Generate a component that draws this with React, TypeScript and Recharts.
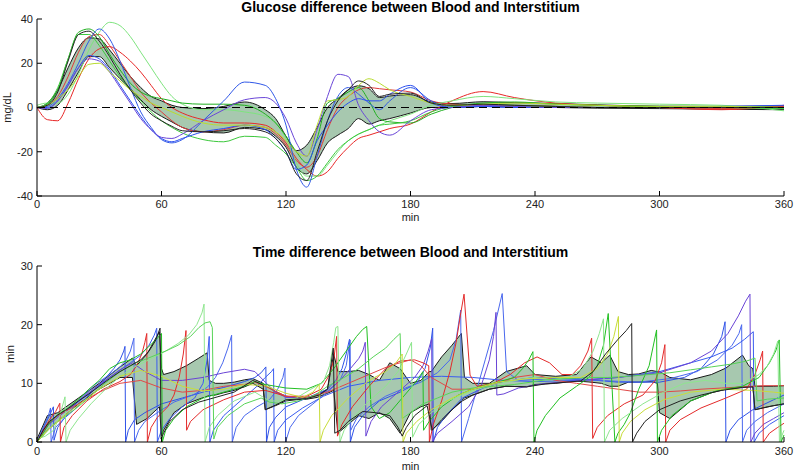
import { Area, ComposedChart, Line, ReferenceLine, XAxis, YAxis } from "recharts";

// shared axis ticks
const minutes = [0, 60, 120, 180, 240, 300, 360];
const glucoseTicks = [-40, -20, 0, 20, 40];
const delayTicks = [0, 10, 20, 30];

// ---- top panel: glucose difference (mg/dL) ----
const glucoseTime = [
	0, 5, 10, 15, 20, 25, 30, 35, 40, 45,
	50, 55, 60, 65, 70, 80, 90, 100, 110, 115,
	120, 125, 130, 135, 140, 145, 150, 155, 160, 165,
	170, 180, 190, 200, 215, 230, 250, 270, 300, 330,
	360,
];
const glucoseBandHigh = [
	0, 2, 8, 18, 27, 31.5, 31, 26, 20, 14,
	9, 5, 3, 1, 0, -0.5, 0.5, 2.5, -1, -5,
	-13, -19.5, -17, -9, 0, 4, 8, 9.8, 8.5, 4.5,
	5.2, 5.8, 2.5, 1.8, 2.6, 2.2, 1.8, 1.2, 0.6, 0.5,
	0.8,
];
const glucoseBandLow = [
	0, -1, 1, 8, 16, 23, 23, 18, 13, 8.5,
	3.5, -1, -4, -6.5, -9, -11, -11.5, -9, -10, -13,
	-18, -27, -30, -24, -16, -12.5, -9.5, -5, -7.5, -6,
	-5, -2.5, 0, 0, 0.5, 0.2, 0, -0.3, -0.5, -0.8,
	-1,
];
const gRedA = [
	0, -5.5, -6, 2, 13, 22, 26.5, 27.5, 25, 21,
	16, 10, 4, 0, -2.5, -5.5, -7, -7, -8, -11,
	-16, -23, -28, -31, -29, -23, -18, -14, -12.5, -11,
	-9.5, -7.5, -2, 3, 7.2, 4.5, 2, 1, 0, -1,
	1,
];
const gRedB = [
	0, 1, 5, 14, 25, 32, 33, 28, 21, 14,
	7, 2, -2, -6, -9, -11, -10, -8, -9, -12,
	-17, -24, -27, -22, -10, 0, 5, 8, 9, 8.5,
	8, 7, 3, 1.5, 1, 1, 0.5, 0, 0, -0.5,
	0.5,
];
const gGreenLight = [
	1, 2, 2, 6, 15, 26, 34, 38.5, 37, 32,
	25, 18, 11, 5, 1.5, -1, -1, -2, -4, -7,
	-14, -25, -31, -31, -26, -20, -15, -12, -10, -8,
	-6, -3, 1, 3, 5, 4, 2.5, 2, 1.5, 1,
	-1.5,
];
const gGreenDark = [
	0, 1.5, 8, 22, 34, 35.5, 32, 24, 17, 11,
	7, 5, 4, 3, 2, 1.5, 1.5, 1, -3, -7,
	-13, -20, -25, -14, 2, 4, 7, 9, 3, -5,
	-6.5, -7, -3, 0, 2, 2.5, 1.5, 1, 0.5, 0.5,
	0,
];
const gGreenLow = [
	0, 2, 9, 22, 33, 33, 28, 21, 14, 8,
	3, -2, -6, -9, -11.5, -14.5, -15.5, -13, -13.5, -17,
	-21, -27, -33, -31, -25, -19, -15, -12, -10, -8,
	-7.5, -6, -2, 0.5, 1.5, 1, 0.5, 0, 0.5, 0,
	-0.5,
];
const gBlueA = [
	0, 0.5, 4, 11, 20, 30, 35.5, 31, 21, 9,
	-2, -9, -14.5, -16, -14.5, -6, 3, 11.5, 10, 4,
	-8, -28, -36, -22, -6, 5, 9, 6, 2, -1,
	3, 9, 3, 0, 0.5, 0, 0, 0, 0, 0,
	0,
];
const gBlueB = [
	0, 0, 3, 10, 18, 23.5, 22, 17, 10, 3,
	-4, -10, -14, -15.5, -14, -11, -9.5, -8, -10, -14,
	-20, -28, -26, -15, -8, -2, 2, 4, 3, 3,
	6, 10, 2, 0, 0.5, 0, 0, 0, 0, 0.5,
	1,
];
const gPurple = [
	0, -0.5, 3, 10, 18, 22, 21, 16, 9, 2,
	-5, -10, -13.5, -14, -12, -6, -1, 3.5, 4.5, 2,
	-5, -16, -22, -10, 5, 15, 14, 1, -6, -11,
	-12.5, -6, -1, 0, 1, 0.5, 0, 0, 0, 0,
	0,
];
const gYellow = [
	0, 1, 4, 8, 14, 19.5, 20, 16, 12, 8,
	5, 2, 0, -2, -4, -7, -8, -8, -9, -11,
	-15, -20, -22, -8, 3, 3.5, 5, 10, 13, 11,
	8, 5, 2, 1, 1.5, 2, 1.5, 1, 0.5, 0.5,
	0,
];
const gBlack = [
	0, 1, 7, 21, 33, 34.5, 30, 23, 15, 8,
	2, -3, -6, -8.5, -10.5, -11, -10.5, -9.5, -11, -14,
	-20, -30, -33, -20, -6, 3, 8, 12, 10, 5,
	6, 6.5, 2, 1, 1.5, 1, 0.5, 0, 0, 0,
	0,
];

const glucoseSeries = [
	{ key: "redA", color: "#e82828", values: gRedA },
	{ key: "redB", color: "#e03a3a", values: gRedB },
	{ key: "greenLight", color: "#7ee47e", values: gGreenLight },
	{ key: "greenDark", color: "#1fb01f", values: gGreenDark },
	{ key: "greenLow", color: "#3cc83c", values: gGreenLow },
	{ key: "blueA", color: "#3058e8", values: gBlueA },
	{ key: "blueB", color: "#2a4ef0", values: gBlueB },
	{ key: "purple", color: "#6a46d8", values: gPurple },
	{ key: "yellow", color: "#b8dc30", values: gYellow },
	{ key: "black", color: "#222222", values: gBlack },
];

const glucoseData = glucoseTime.map((t, i) => {
	const row: Record<string, any> = { t, band: [glucoseBandLow[i], glucoseBandHigh[i]] };
	glucoseSeries.forEach((s) => {
		row[s.key] = s.values[i];
	});
	return row;
});

// ---- bottom panel: time difference (min), [t, value] pairs ----
const delayBlueA: [number, number][] = [
	[0, 0], [2, 1.5], [4, 3], [6, 4.5], [7.9, 6], [8.2, 0.3], [10, 2.5], [13, 4], [18, 5.5], [25, 8],
	[32, 10.5], [37, 12.5], [40, 14], [41.8, 15.5], [42.4, 16.3], [42.7, 0], [44, 2], [47, 3.8], [52, 5], [60, 6.5],
	[70, 7.5], [80, 8.5], [90, 9.3], [100, 10.3], [105, 11], [108, 11.8], [110.3, 12.8], [110.6, 0], [112, 2.5], [115, 4.2],
	[120, 6], [130, 7.5], [140, 9], [144, 10.5], [147, 12.5], [149, 15], [150.6, 17.5], [151, 0], [153, 2.5], [157, 4.5],
	[165, 7], [175, 8.5], [183, 10], [187, 12.5], [189.5, 16], [190.7, 19.4], [191, 0], [193, 2.5], [197, 4.5], [205, 7.5],
	[215, 9.2], [225, 10.3], [240, 11], [260, 10.8], [280, 10.2], [300, 10.2], [312, 11], [320, 12.5], [326, 15], [330, 18],
	[331.6, 20.5], [332, 0], [334, 2], [338, 3.8], [345, 5.5], [355, 7.2], [360, 8],
];
const delayBlueB: [number, number][] = [
	[0, 0], [3, 2.5], [5.5, 4.5], [6.5, 5.8], [6.8, 0], [9, 2.5], [13, 4], [20, 7], [28, 9.8], [35, 11.5],
	[40, 12.8], [43, 14], [45, 15.5], [46.7, 17.7], [47, 0], [49, 2], [52, 3.5], [58, 5], [66, 6.8], [75, 8],
	[82, 9.3], [86, 11], [89.5, 13.5], [92, 16], [93.8, 18.2], [94.1, 0], [96, 2.5], [100, 4.5], [106, 6], [112, 7.2],
	[116, 9], [118.5, 11], [119.5, 12.6], [119.8, 0], [122, 2.5], [126, 4.5], [133, 6.5], [140, 8.5], [146, 10.5], [149, 13],
	[150.9, 17.4], [151.2, 2], [154, 4], [160, 6], [168, 7.8], [176, 9], [185, 10.2], [193, 11.8], [199, 14], [202, 17.5],
	[204.2, 22.5], [204.6, 0], [208, 4], [212, 9], [216, 14], [220, 19], [224.2, 25.3], [226.3, 12], [232, 10.5], [250, 10.8],
	[270, 10.5], [290, 10.2], [305, 10.8], [318, 12], [328, 14], [335, 16.5], [338.3, 18.5], [339.6, 20], [340, 0], [342, 2],
	[346, 3.5], [352, 5], [360, 6.5],
];
const delayBlueC: [number, number][] = [
	[0, 0], [4, 2.5], [8, 4], [15, 5.5], [25, 8.2], [35, 11], [45, 13.5], [50, 14.8], [54, 16.5], [56.5, 18.2],
	[57.7, 19.4], [58, 0], [60, 2], [64, 4], [70, 6], [76, 7.5], [80, 10], [82, 14], [83, 18], [83.3, 0],
	[85, 2], [90, 4.5], [98, 7], [106, 9.5], [110, 11], [113, 12], [114, 12.5], [114.3, 0], [116, 2], [120, 3.8],
	[128, 5.8], [138, 7.8], [150, 9.5], [165, 10.5], [180, 11], [195, 11.2], [210, 11], [225, 10.5], [240, 10.3], [260, 10.5],
	[280, 11], [300, 12], [315, 13.5], [325, 14.5], [335, 16], [341, 17.5], [345.2, 18.8], [345.6, 0], [348, 1.5], [353, 3],
	[360, 4.5],
];
const delayPurple: [number, number][] = [
	[0, 0], [5, 2.8], [10, 4.2], [20, 7], [30, 9.8], [40, 12.3], [46, 13.5], [52, 12], [60, 10.5], [70, 10.5],
	[80, 11], [90, 11.8], [100, 12.4], [105, 12], [110, 10.2], [115, 8.5], [120, 7.6], [130, 7.5], [140, 8.7], [146, 10.5],
	[151, 12.5], [155, 14.2], [157, 15.5], [158.2, 17], [158.5, 1], [161, 3.5], [166, 6], [174, 8.5], [182, 11], [186, 13],
	[188.5, 15.5], [190.2, 17.6], [190.5, 0], [193, 1.5], [200, 3.5], [208, 6], [214, 9.5], [218, 14], [220, 18], [221.2, 22.1],
	[221.6, 8], [225, 8.2], [232, 9.2], [245, 10], [260, 10.4], [280, 11], [300, 11.8], [315, 13.5], [325, 15.5], [333, 18.5],
	[338, 21.5], [341.5, 24], [343.6, 25.2], [344, 0], [346, 1.5], [350, 3], [355, 4], [360, 5],
];
const delayRedA: [number, number][] = [
	[0, 0], [3, 2], [6, 3.8], [9, 5.2], [11, 6.6], [11.3, 0], [13, 2.5], [17, 4.5], [24, 7], [32, 9],
	[40, 10.3], [45, 11.5], [48, 13], [50.5, 15], [52, 17], [52.9, 18.5], [53.2, 0], [55, 2.5], [58, 4.2], [63, 6],
	[66, 8], [68.5, 11], [70.5, 15], [71.8, 19], [72.1, 2], [74, 3.5], [80, 5.5], [90, 7.2], [100, 8.5], [110, 8.8],
	[120, 7.8], [130, 7.8], [137, 9], [141, 11.5], [143, 14], [144.4, 18], [144.8, 1], [147, 3], [152, 6], [160, 9.5],
	[168, 12.5], [175, 13.8], [182, 14], [186, 13.5], [188.8, 13], [189.1, 0], [191, 3], [195, 7], [199, 12], [202, 17],
	[204, 21.5], [205.8, 25.2], [208.7, 11.4], [212, 9.5], [220, 10], [228, 11.5], [235, 13.5], [241, 14.5], [247, 13.5], [253, 11.5],
	[258, 11.5], [262, 13], [265.5, 15.5], [267.3, 17.7], [267.8, 0.6], [270, 2.5], [275, 4.5], [283, 6.5], [292, 8], [298, 10.5],
	[301, 13.5], [302.6, 16.6], [303, 0], [305, 2], [310, 3.8], [320, 5.8], [332, 7.5], [342, 9], [346, 11.5], [348.5, 14],
	[349.7, 15.5], [350, 0], [353, 1.5], [357, 2.5], [360, 3.2],
];
const delayRedB: [number, number][] = [
	[0, 0], [5, 3], [10, 4.5], [20, 6.5], [30, 8.5], [40, 10], [50, 10.5], [60, 9.2], [70, 8.5], [80, 8.8],
	[90, 9.5], [100, 9.8], [105, 10.2], [110, 9.5], [120, 7.8], [130, 7.6], [140, 8.5], [150, 10], [160, 11.5], [170, 13],
	[180, 14], [185, 13], [190, 11], [200, 9], [210, 9], [220, 9.8], [230, 11], [240, 11.5], [250, 10.5], [260, 10],
	[270, 9.5], [280, 9], [290, 8.5], [300, 8.5], [310, 8.7], [320, 9], [330, 9.2], [340, 9.4], [350, 9.6], [360, 9.6],
];
const delayGreenA: [number, number][] = [
	[0, 0], [3, 1.5], [6, 3.2], [10, 4.7], [15, 5.8], [20, 7.3], [25, 9], [30, 10.5], [35, 12.5], [40, 13.5],
	[45, 14], [50, 15], [54, 16.3], [57.5, 17.5], [60, 18.5], [60.4, 0], [62, 2], [66, 4], [72, 6], [80, 7.5],
	[90, 8.5], [100, 9.5], [105, 10.3], [110, 9.8], [115, 9.5], [120, 9.2], [130, 9], [137, 10], [143, 12.5], [149, 15.5],
	[154, 18], [157, 19.2], [158.9, 19.7], [161, 6], [165, 4], [170, 5], [176, 7.5], [182, 10], [186, 12], [186.3, 2],
	[189, 3.5], [195, 6], [203, 8], [212, 9.3], [222, 10.2], [230, 11], [234, 12.5], [237, 14], [239, 15.4], [239.5, 0],
	[241, 2], [245, 4.5], [252, 7.5], [260, 9.5], [266, 11], [270, 13], [273, 16.5], [275.3, 21.9], [278.5, 0], [280, 1.5],
	[283, 3], [286, 5], [290, 9], [295, 13], [298.6, 19.1], [299, 0], [301, 2], [306, 4.5], [315, 7], [328, 8.8],
	[340, 9.5], [348, 11], [353, 13.5], [356, 15.5], [357.7, 17.4], [358.6, 0], [360, 1.2],
];
const delayGreenB: [number, number][] = [
	[0, 0.5], [4, 1], [8, 2], [11, 4.5], [13.5, 7.7], [14, 0], [16, 2], [20, 4], [26, 6.5], [33, 9],
	[40, 11.2], [47, 12.8], [55, 14.2], [62, 15.5], [68, 16.8], [73, 18.2], [77, 20], [79.5, 22], [80.5, 23.5], [81, 0],
	[83, 2.5], [87, 4.5], [95, 7], [105, 8.5], [112, 7], [118, 7], [125, 7.5], [132, 9], [138, 10.2], [141, 13],
	[143, 17], [144, 19.5], [145, 19.7], [146, 0], [148, 2], [152, 4], [160, 7], [168, 9.5], [174, 12], [178, 15],
	[180.5, 17], [181, 0.8], [184, 3], [190, 5], [198, 7], [208, 8.5], [220, 9.8], [232, 10.6], [240, 11], [248, 10.6],
	[256, 11], [263, 12.5], [268, 15.5], [271, 18.5], [273, 21], [273.5, 0], [276, 2], [282, 4], [292, 6.5], [302, 8.5],
	[312, 10], [322, 10.5], [332, 10], [340, 10], [348, 11.5], [352, 13], [355, 15], [357, 17.2], [357.8, 0], [360, 2],
];
const delayGreenC: [number, number][] = [
	[0, 0], [4, 1.5], [8, 3], [12, 4], [18, 5.5], [25, 7.5], [32, 9.8], [40, 12], [48, 13.5], [55, 14.5],
	[62, 15.5], [68, 16.5], [74, 18], [78, 19.5], [81, 20.3], [83.4, 20.5], [84.5, 19.5], [85.2, 0.5], [87, 2.5], [92, 4.5],
	[100, 6.5], [108, 7.5], [112, 6.8], [118, 6.5], [126, 7], [134, 8], [140, 9.5], [148, 11], [155, 12.5], [162, 14.5],
	[168, 16], [172, 17.5], [175, 18.5], [176, 4], [180, 5], [186, 6.5], [193, 7.5], [200, 8.5], [210, 9.2], [220, 9.5],
	[230, 9.8], [238, 10.2], [245, 10.6], [255, 10.8], [265, 11], [275, 11], [285, 11.2], [295, 11.5], [305, 11.8], [315, 12.3],
	[325, 12.8], [335, 13.3], [342, 13.8], [346, 14.3], [347, 7], [352, 7.3], [360, 7.5],
];
const delayYellow: [number, number][] = [
	[0, 0], [5, 2], [10, 3.5], [15, 5], [20, 6.3], [30, 9], [40, 11.2], [50, 12.2], [60, 11.2], [70, 9.5],
	[80, 8.7], [90, 9], [100, 9.8], [110, 9.6], [120, 8.3], [128, 7.6], [133, 8.5], [136, 9.8], [136.4, 0], [138, 2],
	[142, 4.5], [150, 7.5], [160, 10.5], [168, 12], [173, 13.5], [176, 15], [176.4, 0], [178, 1.5], [183, 3.5], [190, 5.5],
	[200, 7.5], [210, 9], [222, 10.2], [236, 10.8], [250, 11], [262, 11], [270, 12.5], [275, 15], [278, 18], [280.2, 21.4],
	[280.6, 0], [282, 1.5], [286, 3.5], [293, 5.5], [302, 7.2], [315, 8.5], [330, 9], [345, 8.8], [355, 8.5], [360, 8.3],
];
const delayBlack: [number, number][] = [
	[0, 0], [3, 2], [6, 3.5], [10, 4.6], [15, 5.7], [20, 7], [25, 8.2], [30, 9.5], [35, 10.8], [40, 12],
	[45, 13], [50, 14], [54, 15.5], [57, 17.2], [59.3, 19.4], [59.8, 0.5], [61, 1.5], [64, 3.5], [70, 5.5], [78, 6.8],
	[85, 7.5], [95, 8.5], [104, 10.5], [109, 9.7], [110, 5.5], [115, 6.3], [120, 7.2], [130, 7.4], [136, 8], [140, 9],
	[142.8, 16], [143.5, 1.5], [146, 2], [150, 3.5], [157, 5.2], [163, 5], [170, 4.5], [174, 2.5], [176, 1], [178, 2.5],
	[182, 4.5], [188, 6.2], [190.5, 2], [195, 3.8], [200, 5.5], [205, 7], [210, 8], [218, 9], [226, 9.5], [236, 9.4],
	[245, 9.9], [255, 10.2], [262, 10.4], [268, 12], [274, 15], [280, 17.5], [284, 19], [286.6, 20.2], [287, 0], [289, 1.5],
	[293, 3.5], [300, 5.5], [310, 7], [320, 8], [330, 8.8], [340, 9.3], [345, 9.4], [346, 5.5], [352, 6], [360, 6.5],
];

const delaySeries = [
	{ name: "blueA", color: "#2f52e8", points: delayBlueA },
	{ name: "blueB", color: "#4a68ee", points: delayBlueB },
	{ name: "blueC", color: "#3a5cf0", points: delayBlueC },
	{ name: "purple", color: "#6a44d6", points: delayPurple },
	{ name: "redA", color: "#e42a2a", points: delayRedA },
	{ name: "redB", color: "#e04848", points: delayRedB },
	{ name: "greenA", color: "#22c022", points: delayGreenA },
	{ name: "greenB", color: "#8ee68e", points: delayGreenB },
	{ name: "greenC", color: "#58d458", points: delayGreenC },
	{ name: "yellow", color: "#c8dd3a", points: delayYellow },
	{ name: "black", color: "#222222", points: delayBlack },
];

const delayBandTime = [
	0, 5, 10, 20, 30, 40, 46, 48, 53, 59,
	60, 61, 66, 72, 78, 82, 83, 86, 90, 95,
	100, 104, 109, 110, 115, 120, 125, 130, 135, 140,
	143, 145, 150, 155, 160, 165, 170, 175, 180, 185,
	189, 190, 195, 200, 204.5, 206, 210, 218, 226, 236,
	240, 250, 260, 267, 272, 276, 280, 285, 290, 296,
	299, 300, 305, 315, 325, 332, 340, 343, 345, 346,
	350, 355, 360,
];
const delayBandHigh = [
	0.5, 4.5, 5, 7.5, 10, 12.8, 14.3, 13, 15, 18.8,
	12.5, 11.5, 12, 13, 14.3, 15.2, 10.5, 10, 10, 10.2,
	10.6, 10.8, 10, 9.6, 8.6, 7.8, 7.6, 7.6, 8, 9,
	15, 12, 12, 12.2, 11.5, 10.5, 13.5, 12.5, 10, 10.5,
	12, 12, 14.5, 16.5, 18.5, 11, 10, 10, 12, 13,
	11.5, 11.2, 11.5, 14.5, 13.5, 14.8, 12, 11.5, 11.6, 12.2,
	12, 12, 11, 10.6, 11.5, 12.6, 14.8, 13, 12.5, 9.5,
	9.5, 9.5, 9.6,
];
const delayBandLow = [
	0, 2, 3.5, 6.5, 9, 11, 11, 3, 4, 6,
	1, 2, 5, 6.5, 7.3, 7.8, 7.9, 8, 8.4, 8.8,
	9.4, 10, 9, 5.5, 6.2, 7, 7.2, 7.3, 7.6, 8.3,
	8.8, 1.5, 3, 4.5, 4, 5, 4, 1.5, 5, 6,
	6.5, 2, 3.5, 5.5, 7, 7.5, 8, 9, 9.5, 9.4,
	9.8, 10, 10.4, 10.2, 10, 9.5, 9.5, 10.2, 10.2, 10.3,
	10, 5, 4, 7, 8.4, 9, 9.3, 9.4, 9.4, 5.5,
	5.8, 6.2, 6.5,
];

const delayBand = delayBandTime.map((t, i) => ({ t, range: [delayBandLow[i], delayBandHigh[i]] }));

const font = "'Liberation Sans', Arial, sans-serif";
const tickStyle = { fill: "#222", fontSize: 11 };
const bandFill = "#5e9b6d";

const titleStyle = {
	position: "absolute" as const,
	left: 37,
	width: 747,
	textAlign: "center" as const,
	fontWeight: "bold" as const,
	fontSize: 14,
	lineHeight: "14px",
	color: "#000",
};

export default function App() {
	return (
		<div style={{ position: "absolute", left: 0, top: 0, width: 794, height: 472, background: "#fff", fontFamily: font }}>
			<div style={{ ...titleStyle, top: 0 }}>Glucose difference between Blood and Interstitium</div>
			<div style={{ position: "absolute", left: 0, top: 0 }}>
				<ComposedChart width={794} height={221} data={glucoseData} margin={{ top: 19, right: 10, bottom: 0, left: 7 }}>
					<XAxis
						dataKey="t"
						type="number"
						domain={[0, 360]}
						ticks={minutes}
						interval={0}
						height={25}
						tickSize={-5}
						tickMargin={9}
						stroke="#000"
						tick={tickStyle}
						label={{ value: "min", position: "insideBottom", offset: 0.5, fill: "#222", fontSize: 11 }}
					/>
					<YAxis
						type="number"
						domain={[-40, 40]}
						ticks={glucoseTicks}
						interval={0}
						width={30}
						tickSize={-5}
						tickMargin={9}
						stroke="#000"
						tick={tickStyle}
						label={{ value: "mg/dL", angle: -90, position: "insideLeft", offset: 0, fill: "#222", fontSize: 11, style: { textAnchor: "middle" } }}
					/>
					{glucoseSeries.map((s) => (
						<Line
							key={s.key}
							dataKey={s.key}
							type="monotone"
							stroke={s.color}
							strokeWidth={1}
							dot={false}
							activeDot={false}
							isAnimationActive={false}
						/>
					))}
					<Area
						dataKey="band"
						type="monotone"
						fill={bandFill}
						fillOpacity={0.55}
						stroke="#1a1a1a"
						strokeWidth={1}
						isAnimationActive={false}
					/>
					<ReferenceLine y={0} stroke="#000" strokeDasharray="8 5" />
				</ComposedChart>
			</div>

			<div style={{ ...titleStyle, top: 245 }}>Time difference between Blood and Interstitium</div>
			<div style={{ position: "absolute", left: 0, top: 232 }}>
				<ComposedChart width={794} height={240} margin={{ top: 34, right: 10, bottom: 1, left: 7 }}>
					<XAxis
						dataKey="t"
						type="number"
						domain={[0, 360]}
						ticks={minutes}
						interval={0}
						height={29}
						tickSize={-5}
						tickMargin={10}
						stroke="#000"
						tick={tickStyle}
						label={{ value: "min", position: "insideBottom", offset: 1.5, fill: "#222", fontSize: 11 }}
					/>
					<YAxis
						type="number"
						domain={[0, 30]}
						ticks={delayTicks}
						interval={0}
						width={30}
						tickSize={-5}
						tickMargin={9}
						stroke="#000"
						tick={tickStyle}
						label={{ value: "min", angle: -90, position: "insideLeft", offset: 3, fill: "#222", fontSize: 11, style: { textAnchor: "middle" } }}
					/>
					{delaySeries.map((s) => (
						<Line
							key={s.name}
							data={s.points.map(([t, v]) => ({ t, v }))}
							dataKey="v"
							type="linear"
							stroke={s.color}
							strokeWidth={1}
							dot={false}
							activeDot={false}
							isAnimationActive={false}
						/>
					))}
					<Area
						data={delayBand}
						dataKey="range"
						type="linear"
						fill={bandFill}
						fillOpacity={0.55}
						stroke="#1a1a1a"
						strokeWidth={1}
						isAnimationActive={false}
					/>
				</ComposedChart>
			</div>
		</div>
	);
}
